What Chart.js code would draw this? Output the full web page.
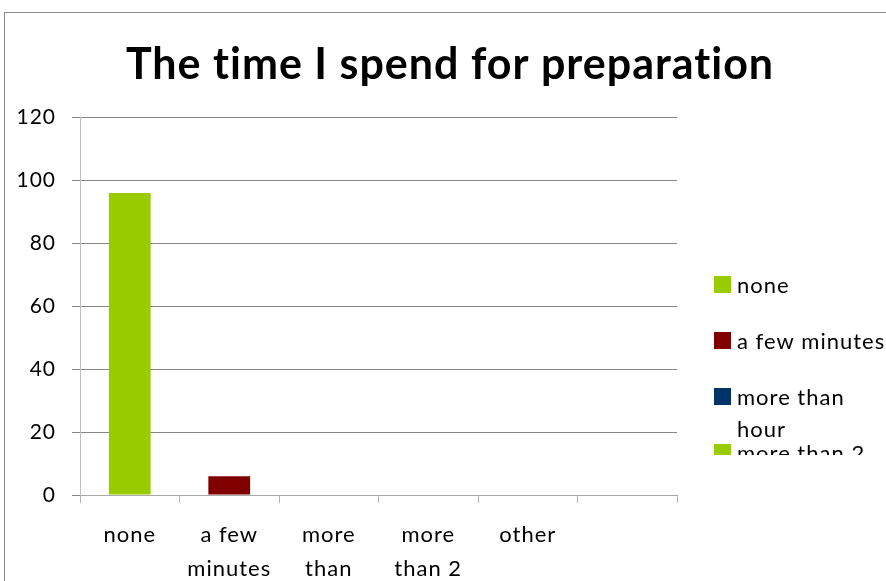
<!DOCTYPE html>
<html>
<head>
<meta charset="utf-8">
<script src="https://cdn.jsdelivr.net/npm/chart.js@4.4.1/dist/chart.umd.min.js"></script>
<style>
html,body{margin:0;padding:0;background:#fff;overflow:hidden;}
#wrap{position:relative;width:886px;height:581px;}
</style>
</head>
<body>
<div id="wrap"><canvas id="c" width="886" height="581"></canvas></div>
<script>
// ---- data ----
const titleText = "The time I spend for preparation";
const categories = [["none"], ["a few", "minutes"], ["more", "than", "hour"], ["more", "than 2", "hours"], ["other"], [""]];
const values = [96, 6, 0, 0, 0, null];
const barColors = ["#99CC00", "#800000", "#003366", "#99CC00", "#800000", "#003366"];
const legendNames = [["none"], ["a few minutes"], ["more than", "hour"], ["more than 2", "hours"]];
const legendColors = ["#99CC00", "#800000", "#003366", "#99CC00"];
const yTicks = [0, 20, 40, 60, 80, 100, 120];

const FONT = "Lato, 'Liberation Sans', sans-serif";

const frame = {
  id: 'frame',
  beforeDraw(chart) {
    const ctx = chart.ctx;
    ctx.strokeStyle = '#8c8c8c';
    ctx.lineWidth = 1;
    ctx.strokeRect(4.5, 12.5, 1000, 1000);
    if ('letterSpacing' in ctx) ctx.letterSpacing = '1px';
  }
};

const sideLegend = {
  id: 'sideLegend',
  afterDraw(chart) {
    const ctx = chart.ctx;
    ctx.save();
    ctx.beginPath();
    ctx.rect(690, 262, 196, 193);
    ctx.clip();
    ctx.font = "22px " + FONT;
    ctx.textBaseline = 'middle';
    ctx.textAlign = 'left';
    legendNames.forEach((lines, i) => {
      const top = 276 + i * 56;
      ctx.fillStyle = legendColors[i];
      ctx.fillRect(714, top, 17, 17);
      ctx.fillStyle = '#000';
      lines.forEach((ln, j) => ctx.fillText(ln, 737, top + 10 + j * 32));
    });
    ctx.restore();
  }
};

new Chart(document.getElementById('c'), {
  type: 'bar',
  data: {
    labels: categories,
    datasets: [{
      data: values,
      backgroundColor: barColors,
      borderWidth: 0,
      barPercentage: 0.42,
      categoryPercentage: 1
    }]
  },
  options: {
    responsive: false,
    animation: false,
    events: [],
    layout: { padding: { left: 14, right: 0, top: 0, bottom: 0 } },
    plugins: {
      legend: { display: false },
      tooltip: { enabled: false },
      title: {
        display: true,
        text: titleText,
        color: '#000',
        font: { family: FONT, size: 43, weight: 'bold', lineHeight: 1.2 },
        padding: { top: 39, bottom: 27 }
      }
    },
    scales: {
      x: {
        grid: { drawOnChartArea: false, drawTicks: true, tickLength: 8, tickColor: '#b4b4b4', offset: true },
        border: { color: '#a8a8a8', width: 1 },
        ticks: { color: '#000', font: { family: FONT, size: 22, lineHeight: 1.55 }, padding: 15, maxRotation: 0, autoSkip: false },
        afterFit(s) { s.height = 86; }
      },
      y: {
        min: 0, max: 120,
        afterBuildTicks(s) { s.ticks = yTicks.map(v => ({ value: v })); },
        grid: { color: '#868686', tickLength: 8, tickColor: '#868686' },
        border: { color: '#bdbdbd', width: 1 },
        ticks: { color: '#000', font: { family: FONT, size: 21 }, padding: 16 },
        afterFit(s) { s.width = 66; }
      },
      yR: {
        position: 'right',
        display: true,
        grid: { display: false },
        border: { display: false },
        ticks: { display: false },
        afterFit(s) { s.width = 209; }
      }
    }
  },
  plugins: [frame, sideLegend]
});
</script>
</body>
</html>
